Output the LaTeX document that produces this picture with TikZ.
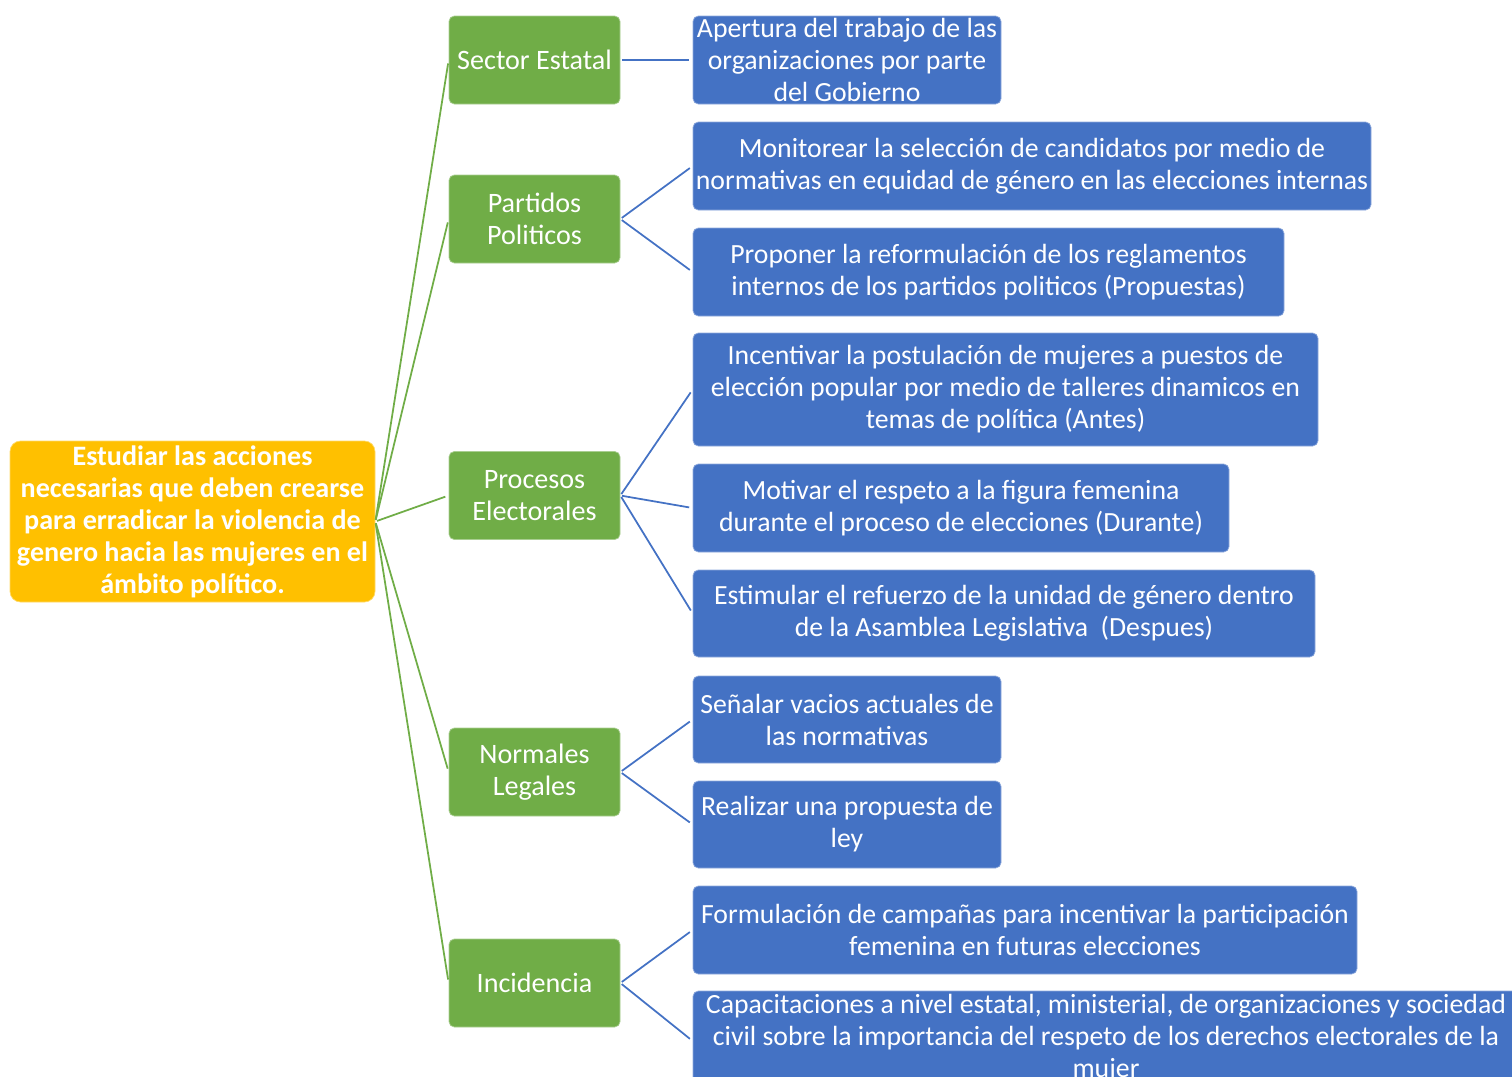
\documentclass[tikz,border=0pt]{standalone}
\usepackage{fontspec}
\setmainfont{Carlito}
\usepackage{xcolor}
\definecolor{rootorange}{HTML}{FFC000}
\definecolor{leafgreen}{HTML}{70AD47}
\definecolor{itemblue}{HTML}{4472C4}
\tikzset{
    root/.style={rectangle, rounded corners=6pt, fill=rootorange, draw=rootorange!60!white, text=white,
        align=center, font=\fontsize{16}{18.2}\selectfont\bfseries, inner sep=0pt},
    branch/.style={rectangle, rounded corners=3pt, fill=leafgreen, draw=leafgreen!60!white, text=white,
        align=center, font=\fontsize{16}{18.2}\selectfont, inner sep=0pt,
        minimum width=171*0.02cm, minimum height=88*0.02cm},
    item/.style={rectangle, rounded corners=3pt, fill=itemblue, draw=itemblue!60!white, text=white,
        align=center, font=\fontsize{15.8}{18.2}\selectfont, inner sep=0pt},
    greenlink/.style={draw=leafgreen, line width=1pt, shorten >=2pt, shorten <=1pt},
    bluelink/.style={draw=itemblue, line width=1pt, shorten >=2pt, shorten <=1pt}}

\begin{document}
\begin{tikzpicture}[x=0.02cm, y=-0.02cm]
    \useasboundingbox (0, 0) rectangle (1512, 1076);
    \clip (0, 0) rectangle (1512, 1076);
    % central idea
    \node[root, minimum width=365*0.02cm, minimum height=161*0.02cm] at (192.5, 521.5) (r) {Estudiar las acciones\\necesarias que deben crearse\\para erradicar la violencia de\\genero hacia las mujeres en el\\ámbito político.};
    % branches
    \node[branch] at (534.5, 60) (g1) {Sector Estatal};
    \node[branch] at (534.5, 219) (g2) {Partidos\\Politicos};
    \node[branch] at (534.5, 495.5) (g3) {Procesos\\Electorales};
    \node[branch] at (534.5, 772) (g4) {Normales\\Legales};
    \node[branch] at (534.5, 983) (g5) {Incidencia};
    % actions
    \node[item, minimum width=308*0.02cm, minimum height=88*0.02cm] at (847, 60) (b1) {Apertura del trabajo de las\\organizaciones por parte\\del Gobierno};
    \node[item, minimum width=678*0.02cm, minimum height=88*0.02cm] at (1032, 166) (b2) {Monitorear la selección de candidatos por medio de\\normativas en equidad de género en las elecciones internas};
    \node[item, minimum width=591*0.02cm, minimum height=88*0.02cm] at (988.5, 272) (b3) {Proponer la reformulación de los reglamentos\\internos de los partidos politicos (Propuestas)};
    \node[item, minimum width=625*0.02cm, minimum height=113*0.02cm] at (1005.5, 389.5) (b4) {Incentivar la postulación de mujeres a puestos de\\elección popular por medio de talleres dinamicos en\\temas de política (Antes)};
    \node[item, minimum width=536*0.02cm, minimum height=88*0.02cm] at (961, 508) (b5) {Motivar el respeto a la figura femenina\\durante el proceso de elecciones (Durante)};
    \node[item, minimum width=622*0.02cm, minimum height=87*0.02cm] at (1004, 613.5) (b6) {Estimular el refuerzo de la unidad de género dentro\\de la Asamblea Legislativa~~(Despues)};
    \node[item, minimum width=308*0.02cm, minimum height=87*0.02cm] at (847, 719.5) (b7) {Señalar vacios actuales de\\las normativas};
    \node[item, minimum width=308*0.02cm, minimum height=87*0.02cm] at (847, 824.5) (b8) {Realizar una propuesta de\\ley};
    \node[item, minimum width=664*0.02cm, minimum height=88*0.02cm] at (1025, 930) (b9) {Formulación de campañas para incentivar la participación\\femenina en futuras elecciones};
    \node[item, minimum width=826*0.02cm, minimum height=94*0.02cm] at (1106, 1038) (b10) {Capacitaciones a nivel estatal, ministerial, de organizaciones y sociedad\\civil sobre la importancia del respeto de los derechos electorales de la\\mujer};
    % links
    \foreach \g in {g1, g2, g3, g4, g5}
        \draw[greenlink] (r.east) -- (\g.west);
    \draw[bluelink] (g1.east) -- (b1.west);
    \draw[bluelink] (g2.east) -- (b2.west);
    \draw[bluelink] (g2.east) -- (b3.west);
    \draw[bluelink] (g3.east) -- (b4.west);
    \draw[bluelink] (g3.east) -- (b5.west);
    \draw[bluelink] (g3.east) -- (b6.west);
    \draw[bluelink] (g4.east) -- (b7.west);
    \draw[bluelink] (g4.east) -- (b8.west);
    \draw[bluelink] (g5.east) -- (b9.west);
    \draw[bluelink] (g5.east) -- ([yshift=-3*0.02cm]b10.west);
\end{tikzpicture}
\end{document}
